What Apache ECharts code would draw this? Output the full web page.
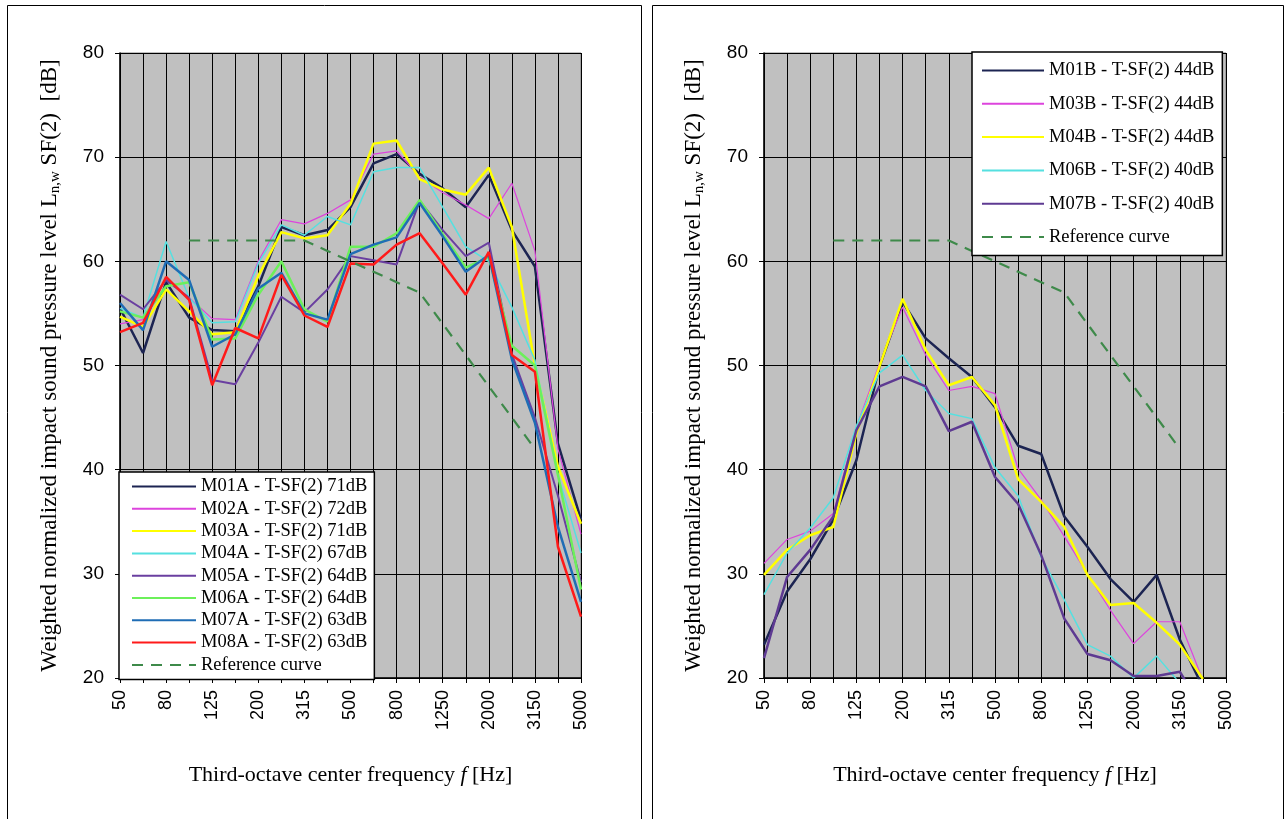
<!DOCTYPE html>
<html>
<head>
<meta charset="utf-8">
<script src="https://cdn.jsdelivr.net/npm/echarts@6/dist/echarts.min.js"></script>
<style>
html,body{margin:0;padding:0;background:#fff;}
#chart{width:1285px;height:819px;}
</style>
</head>
<body>
<div id="chart"></div>
<script>
// third-octave bands
var freqs = ['50','63','80','100','125','160','200','250','315','400','500','630','800','1000','1250','1600','2000','2500','3150','4000','5000'];

// left panel - A series
var m01a = [55.5, 51.2, 58.0, 54.6, 53.4, 53.3, 57.6, 63.3, 62.5, 63.0, 65.2, 69.4, 70.3, 68.4, 67.0, 65.2, 68.3, 63.0, 59.5, 42.5, 35.2];
var m02a = [54.0, 54.4, 58.3, 56.5, 54.5, 54.4, 60.0, 64.0, 63.6, 64.6, 65.9, 70.3, 70.6, 68.1, 66.6, 65.4, 64.1, 67.5, 61.0, 42.0, 33.8];
var m03a = [54.7, 53.7, 57.3, 55.2, 53.0, 53.2, 58.6, 62.8, 62.2, 62.5, 65.5, 71.3, 71.6, 67.9, 66.9, 66.4, 69.0, 63.3, 50.0, 40.3, 34.8];
var m04a = [55.5, 54.6, 61.9, 56.5, 54.1, 54.2, 59.8, 63.5, 62.5, 64.3, 63.5, 68.6, 69.0, 69.0, 65.2, 61.4, 60.0, 55.6, 50.5, 39.5, 32.0];
var m05a = [56.8, 55.4, 58.2, 56.5, 48.6, 48.2, 52.2, 56.6, 55.1, 57.3, 60.5, 60.1, 59.7, 65.8, 63.0, 60.5, 61.8, 51.1, 45.0, 37.5, 29.2];
var m06a = [55.2, 54.6, 57.6, 58.0, 52.5, 52.6, 56.8, 60.0, 55.4, 54.2, 61.4, 61.4, 62.7, 65.9, 62.6, 59.4, 60.4, 51.9, 50.0, 39.5, 28.5];
var m07a = [56.0, 53.4, 60.0, 58.2, 51.8, 53.0, 57.4, 58.9, 55.0, 54.4, 60.7, 61.6, 62.3, 65.6, 62.4, 59.0, 60.6, 50.6, 44.5, 34.5, 27.3];
var m08a = [53.2, 54.1, 58.5, 56.3, 48.1, 53.6, 52.6, 58.7, 54.8, 53.7, 59.8, 59.7, 61.6, 62.7, 59.8, 56.8, 60.9, 51.0, 49.4, 32.6, 25.9];

// right panel - B series
var m01b = [23.2, 28.3, 31.4, 35.2, 40.9, 49.9, 56.1, 52.6, 50.7, 48.9, 46.0, 42.3, 41.5, 35.5, 32.6, 29.5, 27.3, 29.9, 23.7, 19.1, null];
var m03b = [31.0, 33.3, 34.1, 35.8, 44.1, 50.2, 55.6, 51.0, 47.6, 48.0, 47.3, 40.1, 37.1, 33.6, 30.0, 26.5, 23.3, 25.4, 25.4, 19.8, null];
var m04b = [29.9, 32.3, 33.7, 34.5, 43.5, 49.9, 56.4, 51.5, 48.1, 48.9, 46.2, 39.1, 36.9, 34.5, 29.9, 27.0, 27.2, 25.3, 23.2, 19.9, null];
var m06b = [28.0, 32.0, 34.4, 37.3, 44.2, 49.3, 51.0, 47.6, 45.4, 44.9, 40.2, 37.5, 31.6, 27.5, 23.2, 22.1, 20.0, 22.1, 19.5, null, null];
var m07b = [21.9, 29.7, 32.3, 35.5, 43.8, 48.0, 48.9, 48.0, 43.7, 44.6, 39.3, 36.7, 31.8, 25.7, 22.3, 21.7, 20.2, 20.2, 20.6, 17.0, null];

// ISO 717-2 reference curve
var refCurve = [null, null, null, 62, 62, 62, 62, 62, 62, 61, 60, 59, 58, 57, 54, 51, 48, 45, 42, null, null];

var serif = 'Liberation Serif';
var sans = 'Liberation Sans';

function xAx(idx) {
  return {
    type: 'category', gridIndex: idx, data: freqs, boundaryGap: false,
    axisLine: {lineStyle: {color: '#000', width: 1.5}},
    axisTick: {interval: 0, length: 5, lineStyle: {color: '#000'}},
    axisLabel: {interval: 1, rotate: 90, margin: 12, color: '#000', fontFamily: sans, fontSize: 18},
    splitLine: {show: true, interval: 0, lineStyle: {color: '#000', width: 1}},
    name: 'Third-octave center frequency {i|f} [Hz]',
    nameLocation: 'middle', nameGap: 86,
    nameTextStyle: {color: '#000', fontFamily: serif, fontSize: 22, rich: {i: {fontFamily: serif, fontSize: 22, fontStyle: 'italic'}}}
  };
}
function yAx(idx) {
  return {
    type: 'value', gridIndex: idx, min: 20, max: 80, interval: 10,
    axisLine: {show: true, lineStyle: {color: '#000', width: 1.5}},
    axisTick: {show: true, length: 5, lineStyle: {color: '#000'}},
    axisLabel: {margin: 16, color: '#000', fontFamily: sans, fontSize: 19},
    splitLine: {show: true, lineStyle: {color: '#000', width: 1}},
    name: 'Weighted normalized impact sound pressure level L{s|n,w} SF(2)  [dB]',
    nameLocation: 'middle', nameRotate: 90, nameGap: 57,
    nameTextStyle: {color: '#000', fontFamily: serif, fontSize: 23, lineHeight: 27,
      rich: {s: {fontFamily: serif, fontSize: 15, lineHeight: 15, verticalAlign: 'bottom'}}}
  };
}

function line(name, data, color, width, idx, dashed) {
  return {
    name: name, type: 'line', data: data, xAxisIndex: idx, yAxisIndex: idx,
    symbol: 'none', showSymbol: false, connectNulls: false,
    itemStyle: {color: color},
    lineStyle: {color: color, width: width, type: dashed ? [11, 8] : 'solid'}
  };
}

var chart = echarts.init(document.getElementById('chart'));
chart.setOption({
  animation: false,
  backgroundColor: '#fff',
  grid: [
    {left: 120, top: 53, width: 461, height: 625, show: true, backgroundColor: '#c0c0c0', borderColor: '#808080', borderWidth: 1},
    {left: 764, top: 53, width: 462, height: 625, show: true, backgroundColor: '#c0c0c0', borderColor: '#808080', borderWidth: 1}
  ],
  xAxis: [xAx(0), xAx(1)],
  yAxis: [yAx(0), yAx(1)],
  legend: [
    {
      orient: 'vertical', left: 119, top: 472, padding: [5, 7, 5, 12],
      itemWidth: 64, itemHeight: 14, itemGap: 3.3,
      itemStyle: {opacity: 0},
      backgroundColor: '#fff', borderColor: '#000', borderWidth: 1.5,
      textStyle: {fontFamily: serif, fontSize: 18.5, lineHeight: 16, color: '#000'},
      data: ['M01A - T-SF(2) 71dB', 'M02A - T-SF(2) 72dB', 'M03A - T-SF(2) 71dB', 'M04A - T-SF(2) 67dB',
             'M05A - T-SF(2) 64dB', 'M06A - T-SF(2) 64dB', 'M07A - T-SF(2) 63dB', 'M08A - T-SF(2) 63dB', 'Reference curve']
    },
    {
      orient: 'vertical', left: 972, top: 52, padding: [9, 8, 9, 9],
      itemWidth: 62, itemHeight: 14, itemGap: 14.3,
      itemStyle: {opacity: 0},
      backgroundColor: '#fff', borderColor: '#000', borderWidth: 1.5,
      textStyle: {fontFamily: serif, fontSize: 18.5, lineHeight: 16, color: '#000'},
      data: ['M01B - T-SF(2) 44dB', 'M03B - T-SF(2) 44dB', 'M04B - T-SF(2) 44dB', 'M06B - T-SF(2) 40dB',
             'M07B - T-SF(2) 40dB', 'Reference curve']
    }
  ],
  graphic: [
    {type: 'rect', shape: {x: 7.5, y: 5.5, width: 634, height: 830}, style: {fill: 'none', stroke: '#000', lineWidth: 1}, silent: true},
    {type: 'rect', shape: {x: 652.5, y: 5.5, width: 631, height: 830}, style: {fill: 'none', stroke: '#000', lineWidth: 1}, silent: true}
  ],
  series: [
    line('M01A - T-SF(2) 71dB', m01a, '#1c2452', 2.5, 0),
    line('M02A - T-SF(2) 72dB', m02a, '#dd44dd', 1.2, 0),
    line('M03A - T-SF(2) 71dB', m03a, '#ffff00', 2.5, 0),
    line('M04A - T-SF(2) 67dB', m04a, '#55e0e0', 1.5, 0),
    line('M05A - T-SF(2) 64dB', m05a, '#6a3fa0', 2, 0),
    line('M06A - T-SF(2) 64dB', m06a, '#6cf05a', 2.5, 0),
    line('M07A - T-SF(2) 63dB', m07a, '#1f6db5', 2.5, 0),
    line('M08A - T-SF(2) 63dB', m08a, '#ff1a1a', 2.5, 0),
    line('Reference curve', refCurve, '#3e8a4a', 2.2, 0, true),
    line('M01B - T-SF(2) 44dB', m01b, '#1c2452', 2.5, 1),
    line('M03B - T-SF(2) 44dB', m03b, '#dd44dd', 1.2, 1),
    line('M04B - T-SF(2) 44dB', m04b, '#ffff00', 2.5, 1),
    line('M06B - T-SF(2) 40dB', m06b, '#55e0e0', 1.5, 1),
    line('M07B - T-SF(2) 40dB', m07b, '#5e3a92', 2.5, 1),
    line('Reference curve', refCurve, '#3e8a4a', 2.2, 1, true)
  ]
});
</script>
</body>
</html>
